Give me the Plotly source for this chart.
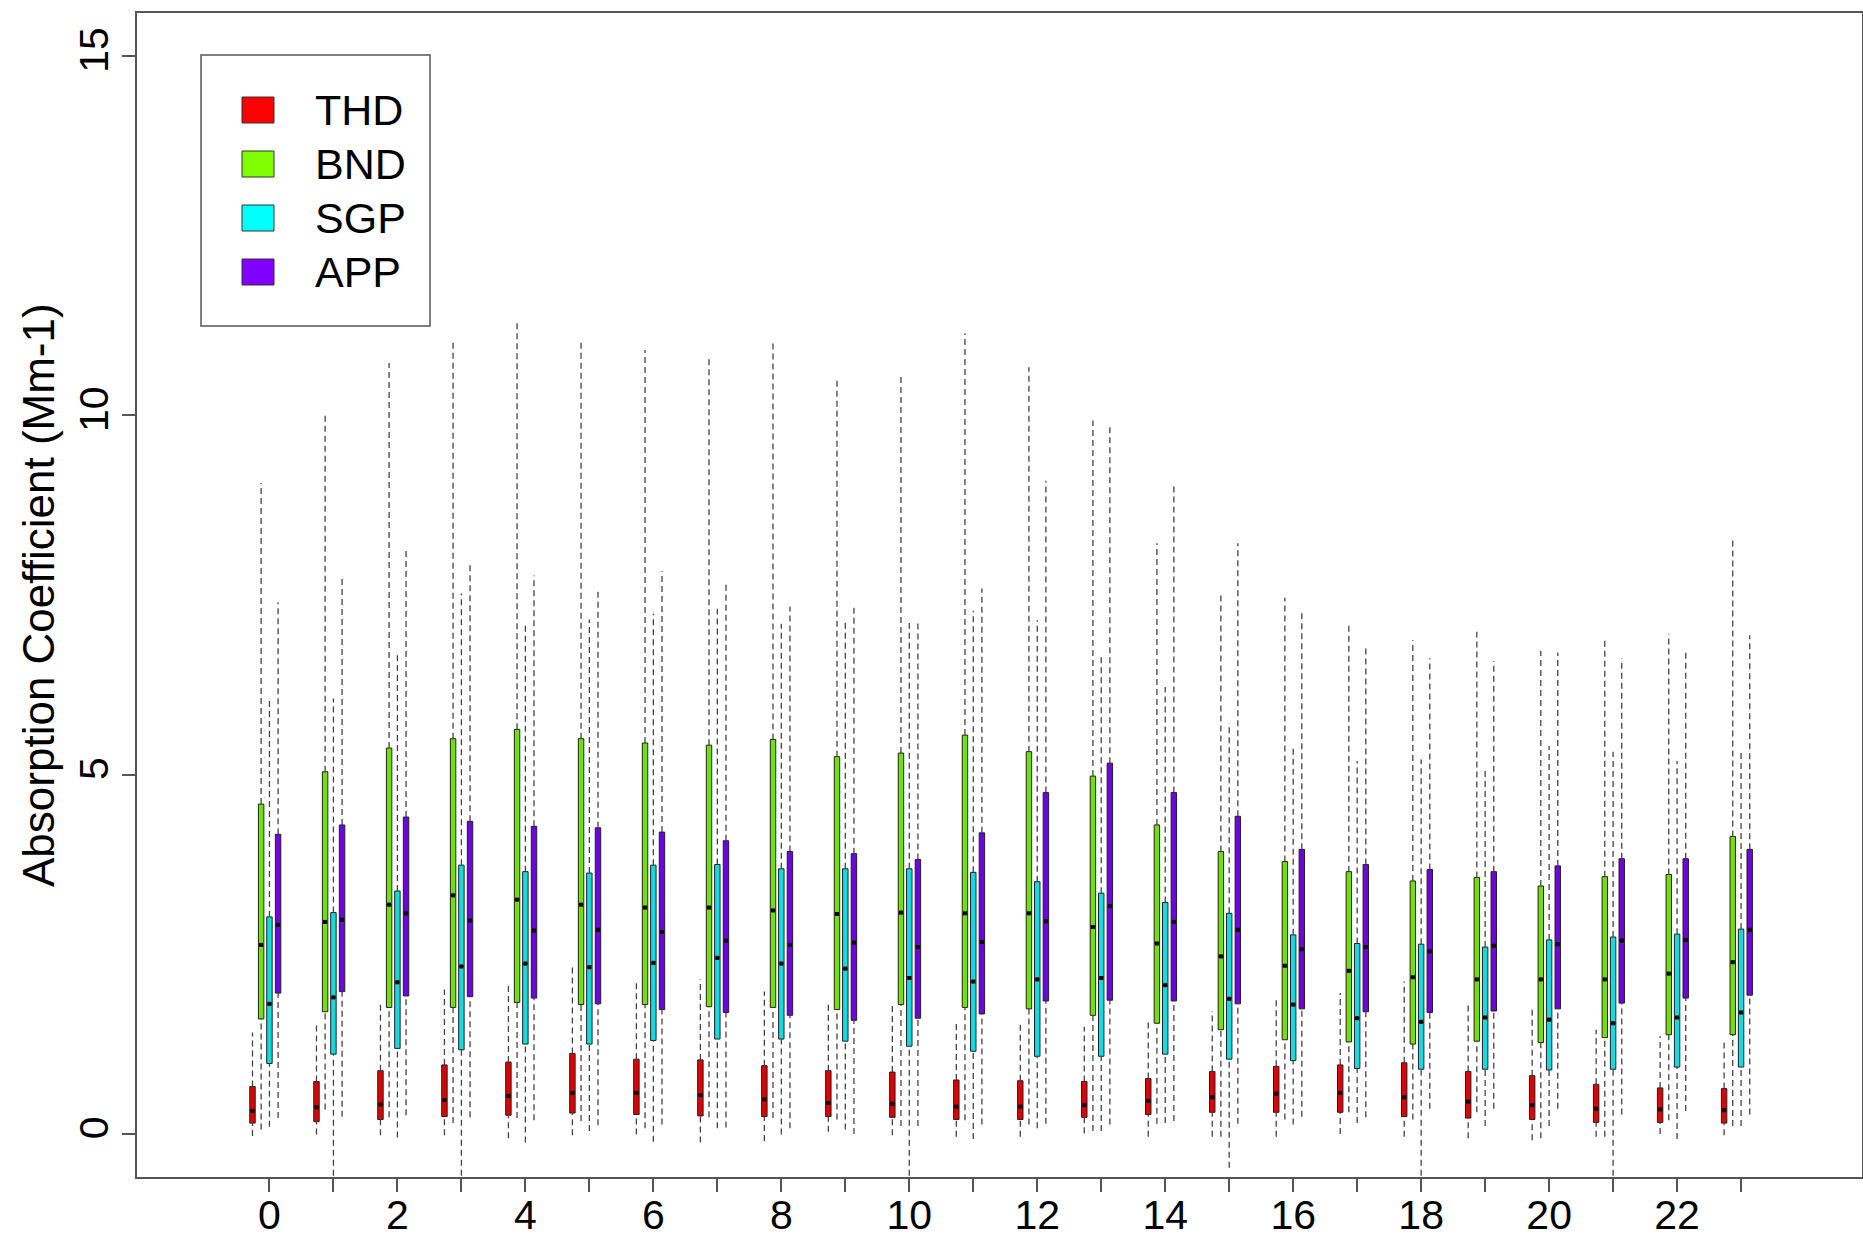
import plotly.graph_objects as go

# ---- data: hourly distribution of absorption coefficient (Mm-1) ----
hours = list(range(24))
hour_labels = [str(h) if h % 2 == 0 else "" for h in hours]
y_ticks = [0, 5, 10, 15]

# THD
thd_low = [-0.03, -0.01, -0.02, -0.02, -0.06, -0.02, -0.01, -0.12, -0.10, 0.03, -0.02, -0.04,
           -0.04, 0.01, -0.04, -0.04, -0.04, 0.00, -0.04, -0.06, -0.09, -0.04, 0.00, -0.02]
thd_q1 = [0.15, 0.17, 0.20, 0.24, 0.26, 0.29, 0.27, 0.25, 0.24, 0.24, 0.23, 0.20,
          0.20, 0.23, 0.27, 0.30, 0.30, 0.30, 0.24, 0.22, 0.20, 0.16, 0.16, 0.15]
thd_med = [0.32, 0.37, 0.41, 0.47, 0.53, 0.57, 0.57, 0.54, 0.48, 0.43, 0.42, 0.38,
           0.38, 0.40, 0.46, 0.51, 0.56, 0.57, 0.51, 0.45, 0.40, 0.35, 0.34, 0.33]
thd_q3 = [0.66, 0.73, 0.88, 0.96, 1.00, 1.12, 1.04, 1.03, 0.95, 0.88, 0.86, 0.75,
          0.74, 0.73, 0.77, 0.87, 0.94, 0.96, 0.99, 0.87, 0.81, 0.69, 0.64, 0.63]
thd_high = [1.41, 1.56, 1.85, 2.01, 2.09, 2.37, 2.15, 2.15, 1.98, 1.85, 1.82, 1.57,
            1.55, 1.49, 1.55, 1.71, 1.89, 1.96, 2.12, 1.83, 1.73, 1.45, 1.36, 1.32]

# BND
bnd_low = [0.06, 0.34, 0.23, 0.15, 0.22, 0.18, 0.08, 0.23, 0.22, 0.20, 0.11, 0.19,
           0.13, 0.04, 0.14, -0.04, 0.20, 0.30, 0.20, 0.30, -0.06, -0.04, 0.19, 0.11]
bnd_q1 = [1.60, 1.70, 1.76, 1.76, 1.83, 1.80, 1.80, 1.77, 1.76, 1.73, 1.80, 1.76,
          1.74, 1.65, 1.54, 1.45, 1.31, 1.28, 1.25, 1.29, 1.27, 1.34, 1.38, 1.38]
bnd_med = [2.63, 2.95, 3.19, 3.32, 3.26, 3.19, 3.15, 3.15, 3.11, 3.06, 3.08, 3.07,
           3.07, 2.88, 2.65, 2.47, 2.34, 2.27, 2.18, 2.15, 2.15, 2.15, 2.23, 2.39]
bnd_q3 = [4.59, 5.04, 5.37, 5.50, 5.63, 5.50, 5.44, 5.41, 5.49, 5.25, 5.30, 5.55,
          5.32, 4.98, 4.30, 3.93, 3.79, 3.65, 3.52, 3.57, 3.45, 3.58, 3.61, 4.14]
bnd_high = [9.06, 10.05, 10.73, 11.02, 11.31, 11.05, 10.91, 10.82, 11.01, 10.53, 10.55, 11.14,
            10.67, 9.93, 8.22, 7.53, 7.46, 7.11, 6.87, 6.99, 6.72, 6.91, 6.96, 8.30]

# SGP
sgp_low = [0.10, -1.00, -0.05, -1.00, -0.12, 0.04, -0.11, 0.08, -0.01, 0.06, -1.00, -0.07,
           0.08, 0.04, 0.15, -0.47, 0.13, 0.15, -1.00, 0.11, 0.11, -1.00, -0.07, 0.11]
sgp_q1 = [0.98, 1.11, 1.19, 1.17, 1.25, 1.25, 1.30, 1.32, 1.32, 1.29, 1.22, 1.15,
          1.08, 1.08, 1.11, 1.04, 1.02, 0.91, 0.90, 0.90, 0.89, 0.90, 0.93, 0.93]
sgp_med = [1.81, 1.90, 2.11, 2.33, 2.37, 2.32, 2.38, 2.45, 2.37, 2.30, 2.17, 2.12,
           2.15, 2.17, 2.07, 1.88, 1.80, 1.61, 1.56, 1.62, 1.59, 1.54, 1.62, 1.69]
sgp_q3 = [3.02, 3.08, 3.38, 3.74, 3.65, 3.63, 3.74, 3.75, 3.69, 3.69, 3.69, 3.64,
          3.51, 3.35, 3.22, 3.07, 2.77, 2.65, 2.64, 2.60, 2.70, 2.74, 2.78, 2.85]
sgp_high = [6.07, 6.06, 6.66, 7.52, 7.10, 7.16, 7.24, 7.31, 7.10, 7.14, 7.11, 7.28,
            7.15, 6.68, 6.22, 5.72, 5.41, 5.19, 5.21, 5.06, 5.40, 5.32, 5.19, 5.30]

# APP
app_low = [0.22, 0.24, 0.26, 0.23, 0.19, 0.12, 0.13, 0.09, 0.08, 0.00, 0.11, 0.13,
           0.14, 0.13, 0.18, 0.14, 0.24, 0.23, 0.35, 0.35, 0.35, 0.27, 0.32, 0.27]
app_q1 = [1.96, 1.98, 1.92, 1.91, 1.89, 1.81, 1.73, 1.69, 1.65, 1.58, 1.61, 1.67,
          1.85, 1.86, 1.85, 1.81, 1.74, 1.70, 1.69, 1.71, 1.74, 1.82, 1.89, 1.93]
app_med = [2.91, 2.98, 3.07, 2.97, 2.83, 2.84, 2.81, 2.69, 2.63, 2.66, 2.60, 2.67,
           2.96, 3.17, 2.95, 2.84, 2.57, 2.60, 2.54, 2.62, 2.64, 2.69, 2.70, 2.84]
app_q3 = [4.17, 4.30, 4.41, 4.35, 4.28, 4.26, 4.20, 4.08, 3.93, 3.90, 3.82, 4.19,
          4.75, 5.16, 4.75, 4.42, 3.96, 3.75, 3.68, 3.65, 3.73, 3.83, 3.83, 3.96]
app_high = [7.40, 7.73, 8.14, 7.96, 7.77, 7.60, 7.83, 7.67, 7.34, 7.35, 7.12, 7.59,
            9.09, 9.84, 9.06, 8.22, 7.26, 6.80, 6.62, 6.58, 6.70, 6.62, 6.73, 6.94]

series = [
    ("THD", thd_low, thd_q1, thd_med, thd_q3, thd_high),
    ("BND", bnd_low, bnd_q1, bnd_med, bnd_q3, bnd_high),
    ("SGP", sgp_low, sgp_q1, sgp_med, sgp_q3, sgp_high),
    ("APP", app_low, app_q1, app_med, app_q3, app_high),
]

# ---- styling ----
key_colors = ["#FF0000", "#80FF00", "#00FFFF", "#8000FF"]
box_colors = ["#E00000", "#74E000", "#12DCDC", "#7200E4"]
offsets = [-0.265, -0.13, 0.0, 0.135]
box_width = 0.085
FONT = "Liberation Sans, Arial, Helvetica, sans-serif"
frame = "#555555"

fig = go.Figure()

for (name, lo, q1, med, q3, hi), col, off in zip(series, box_colors, offsets):
    pos = [h + off for h in hours]

    # dashed whiskers: q3 -> upper end and q1 -> lower end
    wx, wy = [], []
    for p, a, b, c, d in zip(pos, lo, q1, q3, hi):
        wx += [p, p, None, p, p, None]
        wy += [c, d, None, a, b, None]
    fig.add_trace(go.Scatter(
        x=wx, y=wy, mode="lines",
        line=dict(color="#444444", width=1.3, dash="6px,4px"),
        hoverinfo="skip", showlegend=False,
    ))

    # interquartile boxes
    fig.add_trace(go.Box(
        name=name, x=pos, q1=q1, median=med, q3=q3,
        lowerfence=q1, upperfence=q3,
        width=box_width, whiskerwidth=0,
        fillcolor=col, line=dict(color="#222222", width=1),
        boxpoints=False, showlegend=False,
    ))

    # median marks
    fig.add_trace(go.Scatter(
        x=pos, y=med, mode="markers",
        marker=dict(symbol="square", size=4, color="black", line=dict(width=0)),
        hoverinfo="skip", showlegend=False,
    ))

# ---- plot-area geometry (pixels) used for the key box ----
W, H = 1863, 1237
L, R, T, B = 137, 1, 13, 60
pw, ph = W - L - R, H - T - B


def px(xp):
    return (xp - L) / pw


def py(yp):
    return (H - B - yp) / ph


shapes = [dict(type="rect", xref="paper", yref="paper",
               x0=px(201), x1=px(430), y0=py(326), y1=py(55),
               line=dict(color=frame, width=1.5), fillcolor="white", layer="above")]
annotations = []
row_y = [110, 164, 218, 272]
for (name, *_), col, yc in zip(series, key_colors, row_y):
    shapes.append(dict(type="rect", xref="paper", yref="paper",
                       x0=px(242), x1=px(274), y0=py(yc + 13), y1=py(yc - 13),
                       line=dict(color="#333333", width=1), fillcolor=col, layer="above"))
    annotations.append(dict(xref="paper", yref="paper", x=px(313), y=py(yc),
                            xanchor="left", yanchor="middle", showarrow=False,
                            text=name, font=dict(family=FONT, size=43, color="black")))

annotations.append(dict(xref="paper", yref="paper", x=px(38), y=0.5,
                        xanchor="center", yanchor="middle", showarrow=False,
                        textangle=-90, text="Absorption Coefficient (Mm-1)",
                        font=dict(family=FONT, size=44, color="black")))

axis_common = dict(
    showline=True, mirror=True, linecolor=frame, linewidth=1.5,
    ticks="outside", ticklen=13, tickwidth=1.5, tickcolor=frame,
    showgrid=False, zeroline=False, automargin=False,
    tickfont=dict(family=FONT, size=41, color="black"),
)

fig.update_layout(
    width=W, height=H,
    margin=dict(l=L, r=R, t=T, b=B, pad=0),
    paper_bgcolor="white", plot_bgcolor="white",
    boxmode="overlay", showlegend=False,
    shapes=shapes, annotations=annotations,
    xaxis=dict(range=[-2.07, 24.89], tickmode="array", tickvals=hours,
               ticktext=hour_labels, ticklabelstandoff=-12, **axis_common),
    yaxis=dict(range=[-0.6, 15.6], tickmode="array", tickvals=y_ticks,
               ticktext=[str(v) for v in y_ticks], tickangle=-90,
               ticklabelstandoff=-2, **axis_common),
)

fig.write_html("out.html")
